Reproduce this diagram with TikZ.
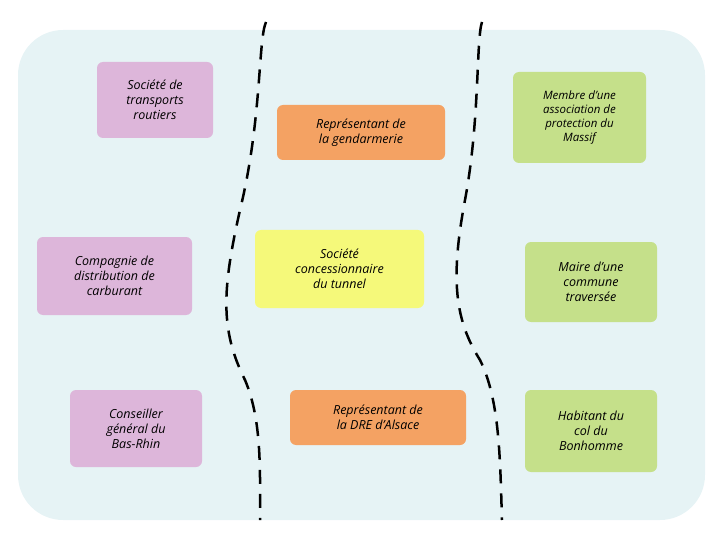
\documentclass[tikz,border=0pt]{standalone}
\usepackage{fontspec}
\setmainfont{Open Sans}
\begin{document}
\begin{tikzpicture}[x=1pt,y=-1pt,
  box/.style={rounded corners=6pt,align=center,inner sep=2pt,font=\itshape\fontsize{12.5}{15}\selectfont},
  sep/.style={line width=2.5pt,dash pattern=on 14pt off 10pt}]
\useasboundingbox (0,0) rectangle (720,540);
\definecolor{bg}{HTML}{E6F3F5}
\definecolor{pk}{HTML}{DDB6DA}
\definecolor{og}{HTML}{F4A263}
\definecolor{yl}{HTML}{F5F97A}
\definecolor{gr}{HTML}{C5E08A}
\fill[bg,rounded corners=45pt] (18,30) rectangle (705,520);
\coordinate (l0) at (266,22);
\coordinate (l1) at (260,520);
\draw[sep] (l0) .. controls (258,40) and (262,120) .. (240,210) .. controls (222,290) and (220,330) .. (245,380) .. controls (262,420) and (260,470) .. (l1);
\coordinate (r0) at (482,22);
\coordinate (r1) at (502,520);
\draw[sep] (r0) .. controls (476,40) and (480,120) .. (465,200) .. controls (450,280) and (455,320) .. (480,360) .. controls (500,400) and (500,460) .. (r1);
\node[box,fill=pk,minimum width=116pt,minimum height=76pt] (a) at (155,100) {Société de\\transports\\routiers};
\node[box,fill=pk,minimum width=155pt,minimum height=78pt] (b) at (114.5,276) {Compagnie de\\distribution de\\carburant};
\node[box,fill=pk,minimum width=132pt,minimum height=77pt] (c) at (136,428.5) {Conseiller\\général du\\Bas-Rhin};
\node[box,fill=og,minimum width=168pt,minimum height=55pt] (d) at (361,132.5) {Représentant de\\la gendarmerie};
\node[box,fill=yl,minimum width=169pt,minimum height=78pt] (e) at (339.5,269) {Société\\concessionnaire\\du tunnel};
\node[box,fill=og,minimum width=176pt,minimum height=55pt] (f) at (378,417.5) {Représentant de\\la DRE d’Alsace};
\node[box,fill=gr,minimum width=133pt,minimum height=91pt,font=\itshape\fontsize{11.5}{14}\selectfont] (g) at (579.5,117.5) {Membre d’une\\association de\\protection du\\Massif};
\node[box,fill=gr,minimum width=132pt,minimum height=80pt] (h) at (591,282) {Maire d’une\\commune\\traversée};
\node[box,fill=gr,minimum width=132pt,minimum height=82pt] (i) at (591,431) {Habitant du\\col du\\Bonhomme};
\end{tikzpicture}
\end{document}
